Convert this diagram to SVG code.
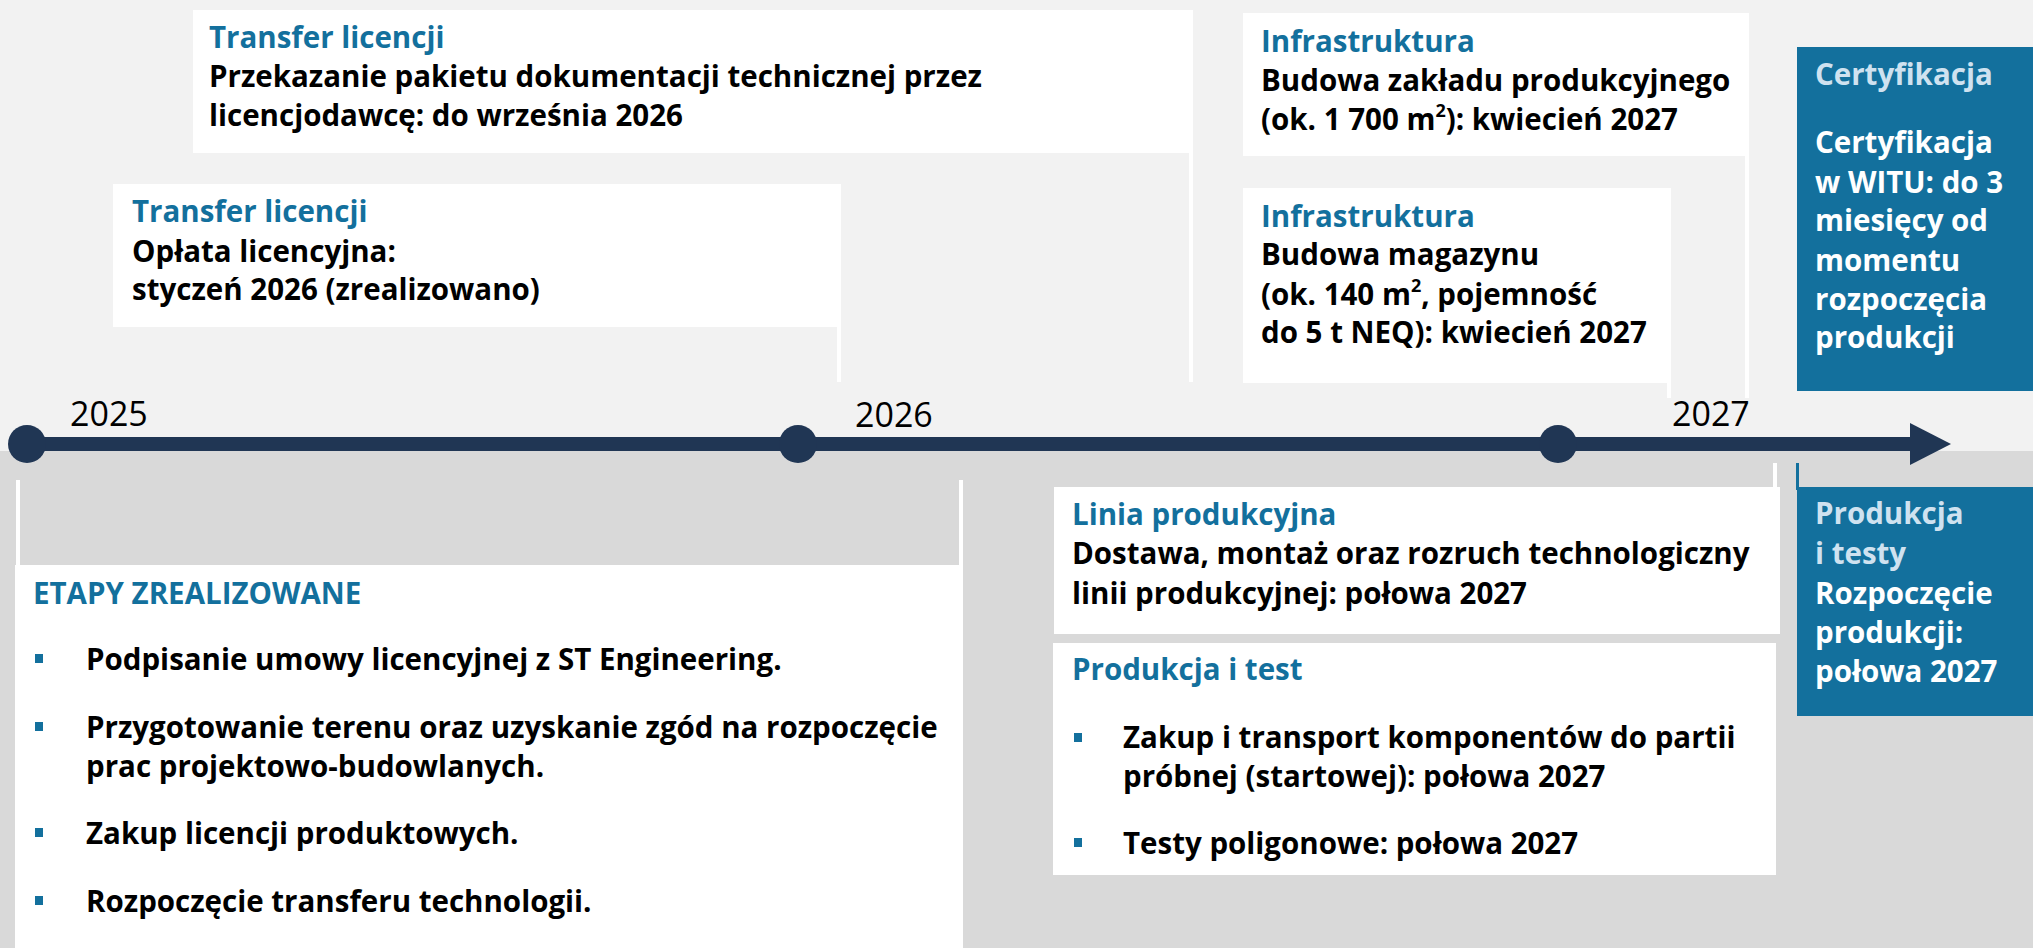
<svg xmlns="http://www.w3.org/2000/svg" width="2033" height="948" viewBox="0 0 2033 948">
<defs>
<style>
.t{font-family:"Open Sans","Liberation Sans",sans-serif;font-weight:700;font-size:29.5px;fill:#000}
.h{fill:#13709d}
.hl{fill:#cfe2f0}
.w{fill:#fff}
.yr{font-family:"Open Sans","Liberation Sans",sans-serif;font-weight:400;font-size:34px;fill:#000}
.box{fill:#fff}
.blue{fill:#13709d}
.lead{fill:#fff}
.bul{fill:#13709d}
</style>
</defs>
<rect x="0" y="0" width="2033" height="451" fill="#f2f2f2"/>
<rect x="0" y="451" width="2033" height="497" fill="#d9d9d9"/>

<g id="connectors">
<rect class="lead" x="1189" y="150" width="4" height="232"/>
<rect class="lead" x="837" y="324" width="4" height="58"/>
<rect class="lead" x="1745" y="153" width="4" height="245"/>
<rect class="lead" x="1667" y="380" width="4" height="18"/>
<rect class="lead" x="16" y="480" width="4" height="88"/>
<rect class="lead" x="959" y="480" width="4" height="88"/>
<rect class="lead" x="1773" y="463" width="4" height="27"/>
<rect x="1796" y="463" width="3" height="27" fill="#13709d"/>
</g>

<g id="timeline">
<rect x="27" y="437" width="1885" height="14" fill="#203654"/>
<polygon points="1910,423 1951,444 1910,465" fill="#203654"/>
<circle cx="27" cy="444" r="19" fill="#203654"/>
<circle cx="798" cy="444" r="19" fill="#203654"/>
<circle cx="1558" cy="444" r="19" fill="#203654"/>
<text class="yr" x="70" y="426">2025</text>
<text class="yr" x="855" y="427">2026</text>
<text class="yr" x="1672" y="426">2027</text>
</g>

<g id="transfer-dokumentacja">
<rect class="box" x="193" y="10" width="1000" height="143"/>
<text class="t h" x="209" y="48">Transfer licencji</text>
<text class="t" x="209" y="87">Przekazanie pakietu dokumentacji technicznej przez</text>
<text class="t" x="209" y="126">licencjodawcę: do września 2026</text>
</g>

<g id="transfer-oplata">
<rect class="box" x="113" y="184" width="728" height="143"/>
<text class="t h" x="132" y="222">Transfer licencji</text>
<text class="t" x="132" y="262">Opłata licencyjna:</text>
<text class="t" x="132" y="300">styczeń 2026 (zrealizowano)</text>
</g>

<g id="infra-zaklad">
<rect class="box" x="1243" y="13" width="506" height="143"/>
<text class="t h" x="1261" y="52">Infrastruktura</text>
<text class="t" x="1261" y="91">Budowa zakładu produkcyjnego</text>
<text class="t" x="1261" y="130">(ok. 1 700 m<tspan dy="-13" font-size="18">2</tspan><tspan dy="13">): kwiecień 2027</tspan></text>
</g>

<g id="infra-magazyn">
<rect class="box" x="1243" y="188" width="428" height="195"/>
<text class="t h" x="1261" y="227">Infrastruktura</text>
<text class="t" x="1261" y="265">Budowa magazynu</text>
<text class="t" x="1261" y="305">(ok. 140 m<tspan dy="-13" font-size="18">2</tspan><tspan dy="13">, pojemność</tspan></text>
<text class="t" x="1261" y="343">do 5 t NEQ): kwiecień 2027</text>
</g>

<g id="certyfikacja">
<rect class="blue" x="1797" y="47" width="236" height="344"/>
<text class="t hl" x="1815" y="85">Certyfikacja</text>
<text class="t w" x="1815" y="153">Certyfikacja</text>
<text class="t w" x="1815" y="193">w WITU: do 3</text>
<text class="t w" x="1815" y="231">miesięcy od</text>
<text class="t w" x="1815" y="271">momentu</text>
<text class="t w" x="1815" y="310">rozpoczęcia</text>
<text class="t w" x="1815" y="348">produkcji</text>
</g>

<g id="etapy-zrealizowane">
<rect class="box" x="15" y="565" width="948" height="383"/>
<text class="t h" x="33" y="604">ETAPY ZREALIZOWANE</text>
<rect class="bul" x="35" y="654" width="8" height="9"/>
<text class="t" x="86" y="670">Podpisanie umowy licencyjnej z ST Engineering.</text>
<rect class="bul" x="35" y="722" width="8" height="9"/>
<text class="t" x="86" y="738">Przygotowanie terenu oraz uzyskanie zgód na rozpoczęcie</text>
<text class="t" x="86" y="777">prac projektowo-budowlanych.</text>
<rect class="bul" x="35" y="828" width="8" height="9"/>
<text class="t" x="86" y="844">Zakup licencji produktowych.</text>
<rect class="bul" x="35" y="896" width="8" height="9"/>
<text class="t" x="86" y="912">Rozpoczęcie transferu technologii.</text>
</g>

<g id="linia-produkcyjna">
<rect class="box" x="1054" y="487" width="726" height="147"/>
<text class="t h" x="1072" y="525">Linia produkcyjna</text>
<text class="t" x="1072" y="564">Dostawa, montaż oraz rozruch technologiczny</text>
<text class="t" x="1072" y="604">linii produkcyjnej: połowa 2027</text>
</g>

<g id="produkcja-test">
<rect class="box" x="1053" y="643" width="723" height="232"/>
<text class="t h" x="1072" y="680">Produkcja i test</text>
<rect class="bul" x="1074" y="733" width="8" height="9"/>
<text class="t" x="1123" y="748">Zakup i transport komponentów do partii</text>
<text class="t" x="1123" y="787">próbnej (startowej): połowa 2027</text>
<rect class="bul" x="1074" y="838" width="8" height="9"/>
<text class="t" x="1123" y="854">Testy poligonowe: połowa 2027</text>
</g>

<g id="produkcja-testy">
<rect class="blue" x="1797" y="487" width="236" height="229"/>
<text class="t hl" x="1815" y="524">Produkcja</text>
<text class="t hl" x="1815" y="564">i testy</text>
<text class="t w" x="1815" y="604">Rozpoczęcie</text>
<text class="t w" x="1815" y="643">produkcji:</text>
<text class="t w" x="1815" y="682">połowa 2027</text>
</g>
</svg>
